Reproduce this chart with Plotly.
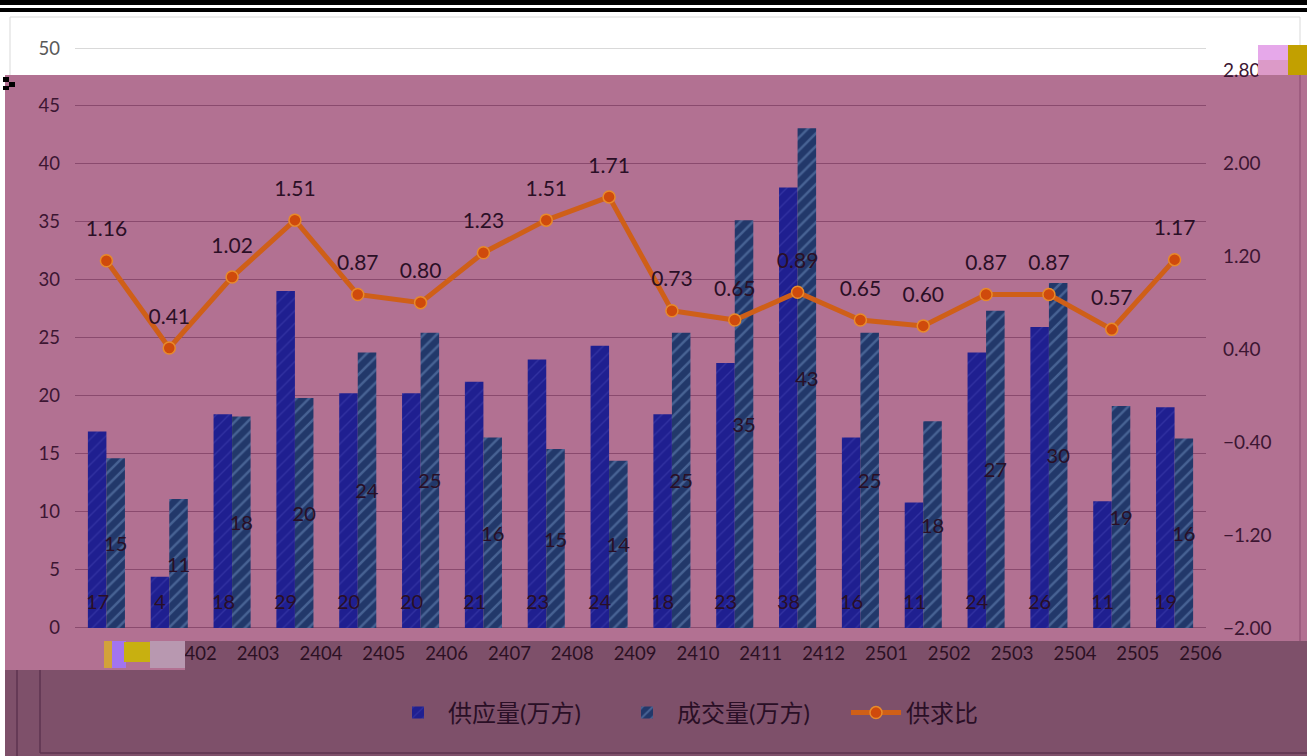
import plotly.graph_objects as go

# ---------------- data ----------------
months = ["2401", "2402", "2403", "2404", "2405", "2406", "2407", "2408", "2409",
          "2410", "2411", "2412", "2501", "2502", "2503", "2504", "2505", "2506"]
supply = [16.9, 4.4, 18.4, 29.0, 20.2, 20.2, 21.2, 23.1, 24.3,
          18.4, 22.8, 37.9, 16.4, 10.8, 23.7, 25.9, 10.9, 19.0]
deal = [14.6, 11.1, 18.2, 19.8, 23.7, 25.4, 16.4, 15.4, 14.4,
        25.4, 35.1, 43.0, 25.4, 17.8, 27.3, 29.7, 19.1, 16.3]
ratio = [1.16, 0.41, 1.02, 1.51, 0.87, 0.80, 1.23, 1.51, 1.71,
         0.73, 0.65, 0.89, 0.65, 0.60, 0.87, 0.87, 0.57, 1.17]
left_ticks = [0, 5, 10, 15, 20, 25, 30, 35, 40, 45]
left_top_tick = [50]
right_ticks = [-2.0, -1.2, -0.4, 0.4, 1.2, 2.0, 2.8]

# ---------------- geometry helpers ----------------
W, H = 1307, 756
L, R, T, B = 75, 101, 47, 128
PW = W - L - R
PH = H - T - B


def px(x):
    return (x - L) / PW


def py(y):
    return (H - B - y) / PH


def rect(x0, y0, x1, y1, color, layer="below"):
    return dict(type="rect", xref="paper", yref="paper",
                x0=px(x0), x1=px(x1), y0=py(y1), y1=py(y0),
                fillcolor=color, line=dict(width=0), layer=layer)


def seg(x0, y0, x1, y1, color, w=1, layer="below"):
    return dict(type="line", xref="paper", yref="paper",
                x0=px(x0), x1=px(x1), y0=py(y0), y1=py(y1),
                line=dict(color=color, width=w), layer=layer)


FONT = "Lato, 'Noto Sans CJK SC', sans-serif"
DARK = "#3a1430"
LABEL = "#2a0f26"
GRID = "#8a4a6e"

fig = go.Figure()

fig.add_trace(go.Bar(
    x=months, y=supply, name="供应量(万方)",
    marker=dict(color="#1f1f90", line=dict(width=0),
                pattern=dict(shape="/", fgcolor="#4646b4", size=9, solidity=0.15)),
    hoverinfo="skip",
))
fig.add_trace(go.Bar(
    x=months, y=deal, name="成交量(万方)",
    marker=dict(color="#22386a", line=dict(width=0),
                pattern=dict(shape="/", fgcolor="#6c8cbc", size=9, solidity=0.28)),
    texttemplate="%{y:.0f}",
    textposition="inside", insidetextanchor="middle", textangle=0,
    constraintext="none",
    textfont=dict(color=LABEL, size=20, family=FONT),
    hoverinfo="skip",
))
fig.add_trace(go.Scatter(
    x=months, y=ratio, name="供求比", yaxis="y2",
    mode="lines+markers",
    line=dict(color="#cf5f18", width=5),
    marker=dict(size=12, color="#cf4a0c", line=dict(color="#e88a2a", width=1.5)),
    hoverinfo="skip",
))
fig.add_trace(go.Scatter(
    x=months, y=ratio, yaxis="y2", showlegend=False,
    mode="markers+text",
    marker=dict(size=29, color="rgba(0,0,0,0)"),
    texttemplate="%{y:.2f}", textposition="top center",
    textfont=dict(color=LABEL, size=21, family=FONT),
    cliponaxis=False, hoverinfo="skip",
))
# empty trace so that the top-gridline axis (y3) is rendered
fig.add_trace(go.Scatter(
    x=months[:1], y=[None], yaxis="y3", showlegend=False,
    mode="markers", hoverinfo="skip",
))

# supply values shown near the bar base (Excel "inside base")
annotations = [
    dict(x=i, y=0, xref="x", yref="y", text=f"{v:.0f}", showarrow=False,
         xshift=-9, yshift=27, yanchor="middle",
         font=dict(color=LABEL, size=20, family=FONT))
    for i, v in enumerate(supply)
]

shapes = [
    # lower band and pink overlay
    rect(5, 641, W, H, "#7e506a"),
    rect(5, 75, W, 641, "#b27192"),
    rect(5, 641, 185, 670, "#b27192"),
    # lower band frame lines
    seg(17, 670, 17, H, "#5e3350", 1.5),
    seg(40, 670, 40, 753, "#5e3350", 1.5),
    seg(40, 753, W, 753, "#5e3350", 1.5),
    # white chart frame
    seg(10, 17, 1300, 17, "#d9d9d9", 1),
    seg(10, 17, 10, 75, "#d9d9d9", 1),
    seg(1300, 17, 1300, 75, "#d9d9d9", 1),
    seg(1300, 75, 1300, 641, GRID, 1),
    # baseline gridline at 0 (edge gridlines are clipped by plotly)
    dict(type="line", xref="paper", yref="y", x0=0, x1=1, y0=0, y1=0,
         line=dict(color=GRID, width=2), layer="below"),
    # black double rule at the top
    rect(0, 0, W, 5, "#000000"),
    rect(0, 8, W, 12, "#000000"),
    # patches on top
    rect(1258, 45, 1288, 60, "#e6a8ea", "above"),
    rect(1258, 60, 1288, 75, "#dc9ac8", "above"),
    rect(1288, 45, W, 75, "#c2a000", "above"),
    rect(104, 641, 112, 668, "#d2a23a", "above"),
    rect(112, 641, 126, 668, "#a274f0", "above"),
    rect(124, 642, 150, 662, "#c8b010", "above"),
    rect(150, 641, 185, 668, "#b898b0", "above"),
    rect(3, 77, 9, 82, "#000000", "above"),
    rect(9, 82, 15, 87, "#000000", "above"),
    rect(3, 86, 9, 90, "#000000", "above"),
]

fig.update_layout(
    width=W, height=H,
    margin=dict(l=L, r=R, t=T, b=B, pad=0),
    paper_bgcolor="#ffffff",
    plot_bgcolor="rgba(0,0,0,0)",
    font=dict(family=FONT, color=DARK, size=18),
    barmode="group", bargap=0.41, bargroupgap=0,
    showlegend=True,
    legend=dict(orientation="h", x=px(388), xanchor="left",
                y=py(713), yanchor="middle",
                font=dict(size=24, color=LABEL, family=FONT),
                bgcolor="rgba(0,0,0,0)", itemwidth=50,
                entrywidth=164, entrywidthmode="pixels",
                traceorder="normal"),
    xaxis=dict(type="category", range=[-0.5, 17.5], showgrid=False,
               showline=False, ticks="", zeroline=False,
               tickfont=dict(size=18.5, color="#2c1024"),
               ticklabelshift=26, ticklabelstandoff=12),
    yaxis=dict(range=[0, 50], tickvals=left_ticks, showgrid=True,
               gridcolor=GRID, gridwidth=1, zeroline=False,
               showline=False, ticks="",
               tickfont=dict(size=18.5, color="#3c1632"),
               ticklabelstandoff=14),
    yaxis3=dict(overlaying="y", side="left", range=[0, 50.1],
                tickvals=left_top_tick, showgrid=True, gridcolor="#d9d9d9",
                zeroline=False, showline=False, ticks="",
                tickfont=dict(size=18.5, color="#595959"),
                ticklabelstandoff=14),
    yaxis2=dict(overlaying="y", side="right", range=[-2.0, 3.0],
                tickvals=right_ticks, tickformat=".2f", showgrid=False,
                zeroline=False, showline=False, ticks="",
                tickfont=dict(size=19, color="#3c1632"),
                ticklabelstandoff=16),
    shapes=shapes,
    annotations=annotations,
    hovermode=False,
)

fig.write_html("out.html",
               config={"displayModeBar": False},
               post_script="document.body.style.margin='0px';")
